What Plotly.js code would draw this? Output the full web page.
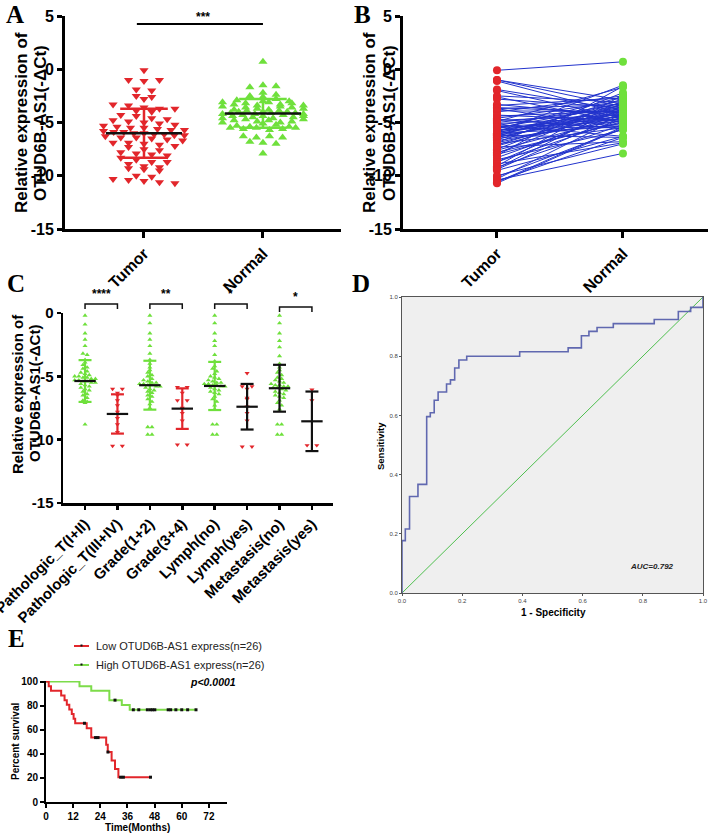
<!DOCTYPE html>
<html>
<head>
<meta charset="utf-8">
<script src="https://cdn.plot.ly/plotly-3.0.1.min.js"></script>
<style>body{margin:0;background:#fff}#fig{width:709px;height:834px}</style>
</head>
<body>
<div id="fig"></div>
<script>
// ---- panel A / B : tumor and matched normal -dCt (same order = pairs)
const groupsAB = ["Tumor", "Normal"];
const tumorVals = [-0.1, -1.0, -1.1, -1.0, -1.9, -2.0, -2.5, -2.6, -2.8, -3.3, -3.4, -3.6, -3.7, -3.7, -3.9, -4.0,
  -4.3, -4.4, -4.6, -4.7, -4.8, -4.9, -5.0, -5.1, -5.2, -5.3, -5.4, -5.5, -5.5, -5.6, -5.7, -5.7, -5.8, -5.9, -5.9,
  -6.0, -6.0, -6.1, -6.1, -6.2, -6.2, -6.3, -6.4, -6.4, -6.5, -6.6, -6.7, -6.9, -6.9, -7.0, -7.1, -7.2, -7.3, -7.5,
  -7.6, -7.8, -7.9, -8.0, -8.1, -8.3, -8.5, -8.7, -8.7, -8.9, -9.1, -9.2, -9.3, -9.4, -9.5, -10.0, -10.1, -10.3,
  -10.4, -10.5, -10.6, -10.7];
const normalVals = [0.7, -3.5, -4.2, -2.9, -3.8, -4.6, -3.1, -5.0, -3.6, -4.4, -2.7, -4.1, -5.5, -3.3, -4.0, -2.5,
  -4.8, -3.9, -3.0, -5.6, -4.3, -1.7, -3.7, -4.5, -6.3, -3.2, -4.7, -3.4, -4.9, -2.6, -4.2, -5.3, -3.8, -1.5, -4.4,
  -3.1, -5.4, -4.0, -3.5, -4.6, -6.4, -2.8, -4.1, -3.9, -5.1, -3.3, -4.8, -2.2, -4.3, -5.5, -3.6, -4.0, -6.8, -3.0,
  -4.5, -5.0, -3.2, -4.9, -1.6, -4.1, -5.7, -3.7, -4.7, -6.9, -2.4, -5.2, -3.4, -4.2, -6.3, -7.0, -5.6, -4.4, -7.9,
  -6.4, -5.4, -5.5];
const meanAB = [-6.0, -4.15];
const sdAB = [2.3, 1.35];
const yTicksAB = [-15, -10, -5, 0, 5];

// ---- panel C : subgroups
const groupsC = ["Pathologic_T(I+II)", "Pathologic_T(III+IV)", "Grade(1+2)", "Grade(3+4)",
  "Lymph(no)", "Lymph(yes)", "Metastasis(no)", "Metastasis(yes)"];
const tEarly = [-0.2, -0.9, -1.6, -2.1, -2.6, -3.2, -3.3, -3.7, -3.9, -4.1, -4.3, -4.4, -4.6, -4.7, -4.8, -4.9,
  -5.0, -5.0, -5.1, -5.1, -5.2, -5.2, -5.3, -5.3, -5.4, -5.4, -5.5, -5.5, -5.6, -5.7, -5.8, -5.9, -6.0, -6.1, -6.2,
  -6.4, -6.5, -6.7, -6.9, -7.0, -7.1, -8.8];
const tLate = [-6.0, -6.0, -6.3, -6.5, -6.9, -7.3, -7.8, -8.3, -8.8, -9.4, -10.5, -10.5];
const gradeLow = [-0.2, -0.8, -1.6, -2.1, -2.6, -3.2, -3.7, -4.0, -4.3, -4.5, -4.7, -4.9, -5.0, -5.2, -5.3, -5.4,
  -5.5, -5.5, -5.6, -5.6, -5.7, -5.7, -5.8, -5.8, -5.9, -6.0, -6.1, -6.2, -6.3, -6.5, -6.6, -6.8, -7.0, -7.2, -7.5,
  -9.0, -9.0, -9.6, -9.6];
const gradeHigh = [-5.85, -5.85, -6.3, -6.9, -6.9, -7.5, -7.9, -8.5, -10.4, -10.4];
const lymphNo = [-0.2, -0.8, -1.6, -2.2, -2.6, -3.3, -3.8, -4.2, -4.4, -4.6, -4.8, -5.0, -5.1, -5.2, -5.3, -5.4,
  -5.5, -5.5, -5.6, -5.6, -5.7, -5.7, -5.8, -5.8, -5.9, -6.0, -6.1, -6.2, -6.3, -6.4, -6.6, -6.8, -7.0, -7.3, -7.6,
  -8.8, -8.8, -9.6, -9.6];
const lymphYes = [-4.75, -5.8, -5.8, -6.0, -6.7, -6.8, -7.4, -7.9, -8.5, -10.55, -10.55];
const metaNo = [-0.2, -0.8, -1.6, -2.2, -2.7, -3.4, -4.0, -4.3, -4.5, -4.7, -4.9, -5.1, -5.2, -5.3, -5.4, -5.5,
  -5.6, -5.7, -5.7, -5.8, -5.8, -5.9, -5.9, -6.0, -6.1, -6.2, -6.3, -6.4, -6.5, -6.6, -6.7, -6.9, -7.1, -7.3, -7.6,
  -8.8, -8.8, -9.6, -9.6];
const metaYes = [-6.05, -6.9, -10.45, -10.45];
const meanC = [-5.37, -7.97, -5.7, -7.55, -5.76, -7.4, -5.94, -8.55];
const sdC = [1.65, 1.55, 1.93, 1.6, 1.9, 1.8, 1.85, 2.35];
const sigC = ["****", "**", "*", "*"];
const yTicksC = [-15, -10, -5, 0];

// ---- panel D : ROC corners
const rocFpr = [0, 0, 0.011, 0.025, 0.053, 0.082, 0.094, 0.107, 0.12, 0.148, 0.161, 0.175, 0.189, 0.215, 0.391,
  0.552, 0.596, 0.621, 0.648, 0.702, 0.838, 0.918, 0.959, 1.0];
const rocTpr = [0, 0.177, 0.216, 0.326, 0.367, 0.596, 0.609, 0.651, 0.679, 0.706, 0.72, 0.76, 0.787, 0.8, 0.815,
  0.828, 0.869, 0.884, 0.897, 0.91, 0.924, 0.951, 0.965, 1.0];
const rocTicks = [0, 0.2, 0.4, 0.6, 0.8, 1.0];

// ---- panel E : Kaplan-Meier
const lowTime = [0, 1.2, 2.2, 6.7, 8.2, 9.2, 10.3, 11.4, 12.2, 12.9, 18, 20, 26.6, 27.3, 29, 30.5, 32, 46.2];
const lowSurv = [100, 96.2, 92.3, 88.5, 84.6, 80.8, 76.9, 73.1, 69.2, 65.4, 61.3, 53.5, 47.5, 41.5, 34.5, 27.5, 20.6, 20.6];
const lowCens = [17, 21.9, 23, 27.4, 33, 34.2, 46.2];
const highTime = [0, 14.8, 20, 28, 33.5, 37, 66.3];
const highSurv = [100, 96.2, 92.3, 84.6, 80.6, 76.6, 76.6];
const highCens = [30.5, 38.6, 41, 44.8, 46.1, 47.1, 48.1, 54, 55.1, 57.4, 60, 62.6, 66.3];
const kmLabels = ["Low OTUD6B-AS1 express(n=26)", "High OTUD6B-AS1 express(n=26)"];

const W = 709, H = 834;
const px = x => x / W;
const py = y => 1 - y / H;
const RED = "#e2262b", GREEN = "#6fe03c", BLUE = "#2233cc";
const FONT = "Liberation Sans, Arial, sans-serif";
const SERIF = "Liberation Serif, Times New Roman, serif";

// spread points of one column into rows (GraphPad-like scatter)
function swarm(vals, binW, maxStep, halfW) {
  const rows = {};
  vals.forEach((v, i) => { const k = Math.round(v / binW); (rows[k] = rows[k] || []).push(i); });
  const off = vals.map(() => 0);
  Object.values(rows).forEach(ids => {
    const n = ids.length;
    const step = n > 1 ? Math.min(maxStep, 2 * halfW / (n - 1)) : 0;
    ids.forEach((id, j) => { off[id] = (j - (n - 1) / 2) * step; });
  });
  return off;
}

function barTraces(xc, m, s, col, xa, ya, capW, meanW, lw) {
  return [
    {x: [xc, xc, null, xc - capW, xc + capW, null, xc - capW, xc + capW],
     y: [m - s, m + s, null, m + s, m + s, null, m - s, m - s],
     mode: "lines", line: {color: col, width: lw}, xaxis: xa, yaxis: ya},
    {x: [xc - meanW, xc + meanW], y: [m, m], mode: "lines", line: {color: "#111", width: lw}, xaxis: xa, yaxis: ya}
  ];
}

function levelAt(ts, ss, t) {
  let s = ss[0];
  ts.forEach((v, i) => { if (v <= t) s = ss[i]; });
  return s;
}

const traces = [];

// A
const offT = swarm(tumorVals, 0.5, 0.13, 0.34);
const offN = swarm(normalVals, 0.4, 0.11, 0.34);
traces.push({x: offT, y: tumorVals, mode: "markers", xaxis: "x", yaxis: "y",
  marker: {symbol: "triangle-down", size: 8, color: RED}});
traces.push({x: offN.map(o => 1 + o), y: normalVals, mode: "markers", xaxis: "x", yaxis: "y",
  marker: {symbol: "triangle-up", size: 8, color: GREEN}});
[RED, GREEN].forEach((c, g) => traces.push(...barTraces(g, meanAB[g], sdAB[g], c, "x", "y", 0.2, 0.32, 2.5)));

// B
const pairX = [], pairY = [];
tumorVals.forEach((t, i) => { pairX.push(0, 1, null); pairY.push(t, normalVals[i], null); });
traces.push({x: pairX, y: pairY, mode: "lines", line: {color: BLUE, width: 1}, xaxis: "x2", yaxis: "y2"});
traces.push({x: tumorVals.map(() => 0), y: tumorVals, mode: "markers", xaxis: "x2", yaxis: "y2",
  marker: {size: 8, color: RED}});
traces.push({x: normalVals.map(() => 1), y: normalVals, mode: "markers", xaxis: "x2", yaxis: "y2",
  marker: {size: 8, color: GREEN}});

// C
const valsC = [tEarly, tLate, gradeLow, gradeHigh, lymphNo, lymphYes, metaNo, metaYes];
const barColC = [GREEN, RED, GREEN, RED, GREEN, "#111", "#111", "#111"];
valsC.forEach((vals, g) => {
  const green = g % 2 === 0;
  const off = green ? swarm(vals, 0.3, 0.13, 0.32) : swarm(vals, 0.3, 0.3, 0.16);
  traces.push({x: off.map(o => g + o), y: vals, mode: "markers", xaxis: "x3", yaxis: "y3",
    marker: {symbol: green ? "triangle-up" : "triangle-down", size: 4.5, color: green ? GREEN : RED}});
});
valsC.forEach((vals, g) => traces.push(...barTraces(g, meanC[g], sdC[g], barColC[g], "x3", "y3", 0.2, 0.33, 2.2)));

// D
traces.push({x: [0, 1], y: [0, 1], mode: "lines", line: {color: "#4fbf4f", width: 1}, xaxis: "x4", yaxis: "y4"});
traces.push({x: rocFpr, y: rocTpr, mode: "lines", line: {color: "#6068b0", width: 1.6, shape: "hv"},
  xaxis: "x4", yaxis: "y4"});

// E
traces.push({x: highTime, y: highSurv, mode: "lines", line: {color: "#7ddc4a", width: 2, shape: "hv"},
  xaxis: "x5", yaxis: "y5"});
traces.push({x: lowTime, y: lowSurv, mode: "lines", line: {color: RED, width: 2, shape: "hv"},
  xaxis: "x5", yaxis: "y5"});
traces.push({x: highCens, y: highCens.map(t => levelAt(highTime, highSurv, t)), mode: "markers",
  marker: {symbol: "square", size: 3, color: "#111"}, xaxis: "x5", yaxis: "y5"});
traces.push({x: lowCens, y: lowCens.map(t => levelAt(lowTime, lowSurv, t)), mode: "markers",
  marker: {symbol: "square", size: 3, color: "#111"}, xaxis: "x5", yaxis: "y5"});

const axBlack = (lw, tl) => ({showline: true, linecolor: "#000", linewidth: lw, ticks: "outside", ticklen: tl,
  tickwidth: lw, tickcolor: "#000", showgrid: false, zeroline: false, fixedrange: true, ticklabeloverflow: "allow"});
const bold = size => ({family: FONT, size: size, weight: "bold", color: "#000"});

const layout = {
  width: W, height: H, margin: {l: 0, r: 0, t: 0, b: 0},
  paper_bgcolor: "#fff", plot_bgcolor: "rgba(0,0,0,0)", showlegend: false,
  xaxis: Object.assign(axBlack(3, 6), {domain: [px(65), px(341)], anchor: "y", range: [-0.664, 1.656],
    tickvals: [0, 1], ticktext: groupsAB, tickangle: -45, tickfont: bold(16)}),
  yaxis: Object.assign(axBlack(3, 5), {domain: [py(229), py(16)], anchor: "x", range: [-15, 5],
    tickvals: yTicksAB, ticktext: yTicksAB.map(String), tickfont: bold(16)}),
  xaxis2: Object.assign(axBlack(3, 6), {domain: [px(403), px(708)], anchor: "y2", range: [-0.746, 1.675],
    tickvals: [0, 1], ticktext: groupsAB, tickangle: -45, tickfont: bold(16)}),
  yaxis2: Object.assign(axBlack(3, 5), {domain: [py(229), py(16)], anchor: "x2", range: [-15, 5],
    tickvals: yTicksAB, ticktext: yTicksAB.map(String), tickfont: bold(16)}),
  xaxis3: Object.assign(axBlack(2.5, 4), {domain: [px(63), px(333)], anchor: "y3", range: [-0.68, 7.65],
    tickvals: groupsC.map((g, i) => i), ticktext: groupsC, tickangle: -45, tickfont: bold(15)}),
  yaxis3: Object.assign(axBlack(2.5, 4), {domain: [py(503), py(313)], anchor: "x3", range: [-15, 0],
    tickvals: yTicksC, ticktext: yTicksC.map(String), tickfont: bold(15)}),
  xaxis4: {domain: [px(402), px(703)], anchor: "y4", range: [0, 1], showline: true, mirror: true,
    linecolor: "#555", linewidth: 1, ticks: "outside", ticklen: 2, tickcolor: "#555", showgrid: false,
    zeroline: false, tickvals: rocTicks, ticktext: rocTicks.map(v => v.toFixed(1)),
    tickfont: {family: FONT, size: 6, color: "#444"}},
  yaxis4: {domain: [py(593), py(297)], anchor: "x4", range: [0, 1], showline: true, mirror: true,
    linecolor: "#555", linewidth: 1, ticks: "outside", ticklen: 2, tickcolor: "#555", showgrid: false,
    zeroline: false, tickvals: rocTicks, ticktext: rocTicks.map(v => v.toFixed(1)),
    tickfont: {family: FONT, size: 6, color: "#444"}},
  xaxis5: Object.assign(axBlack(2, 4), {domain: [px(46), px(227)], anchor: "y5", range: [0, 80],
    tickvals: [0, 12, 24, 36, 48, 60, 72], tickfont: bold(10)}),
  yaxis5: Object.assign(axBlack(2, 4), {domain: [py(802), py(681)], anchor: "x5", range: [0, 100.5],
    tickvals: [0, 20, 40, 60, 80, 100], tickfont: bold(10)}),
  shapes: [
    {type: "rect", xref: "x4 domain", yref: "y4 domain", x0: 0, x1: 1, y0: 0, y1: 1,
     fillcolor: "#efefef", line: {width: 0}, layer: "below"},
    {type: "line", xref: "x", yref: "paper", x0: -0.06, x1: 1, y0: py(24), y1: py(24), line: {color: "#000", width: 2}}
  ],
  annotations: []
};

// significance brackets in C
sigC.forEach((s, k) => {
  const a = 2 * k, b = 2 * k + 1;
  const top = k < 3 ? 304 : 307;
  const drop = 5;
  layout.shapes.push({type: "path", xref: "x3", yref: "paper",
    path: `M ${a},${py(top + drop)} L ${a},${py(top)} L ${b},${py(top)} L ${b},${py(top + drop)}`,
    line: {color: "#111", width: 1.5}});
  layout.annotations.push({xref: "x3", yref: "paper", x: (a + b) / 2, y: py(top - 1), yanchor: "bottom",
    xanchor: "center", text: s, showarrow: false, font: bold(12)});
});

// KM legend (drawn by hand, short symbol)
[[RED, 646], ["#7ddc4a", 665]].forEach(([c, y], i) => {
  layout.shapes.push({type: "line", xref: "paper", yref: "paper", x0: px(74), x1: px(89), y0: py(y), y1: py(y),
    line: {color: c, width: 2}});
  layout.shapes.push({type: "rect", xref: "paper", yref: "paper", x0: px(80.5), x1: px(82.5), y0: py(y - 1.5),
    y1: py(y + 0.5), fillcolor: "#111", line: {width: 0}});
  layout.annotations.push({xref: "paper", yref: "paper", x: px(94), y: py(y), xanchor: "left", yanchor: "middle",
    text: kmLabels[i], showarrow: false, font: {family: FONT, size: 11, color: "#222"}});
});

const note = (text, x, y, font, extra) => layout.annotations.push(Object.assign({xref: "paper", yref: "paper",
  x: px(x), y: py(y), xanchor: "center", yanchor: "middle", text: text, showarrow: false, font: font}, extra || {}));

// panel letters
[["A", 15, 14], ["B", 362, 14], ["C", 16, 283], ["D", 361, 283], ["E", 16, 638]].forEach(([t, x, y]) =>
  note(t, x, y, {family: SERIF, size: 25, weight: "bold", color: "#000"}));

// axis titles
note("Relative expression of", 22, 123, bold(17), {textangle: -90});
note("OTUD6B-AS1(-ΔCt)", 41, 123, bold(17), {textangle: -90});
note("Relative expression of", 370, 123, bold(17), {textangle: -90});
note("OTUD6B-AS1(-ΔCt)", 390, 123, bold(17), {textangle: -90});
note("Relative expression of", 18, 394, bold(15), {textangle: -90});
note("OTUD6B-AS1(-ΔCt)", 35, 394, bold(15), {textangle: -90});
note("***", 203, 17, bold(12));
note("Sensitivity", 380, 446, bold(9.5), {textangle: -90});
note("1 - Specificity", 553, 612, bold(10));
note("AUC=0.792", 652, 566, {family: FONT, size: 8, weight: "bold", style: "italic", color: "#222"});
note("Percent survival", 15, 742, bold(10), {textangle: -90});
note("Time(Months)", 137, 827, bold(10));
note("p<0.0001", 238, 682, {family: FONT, size: 10.5, weight: "bold", style: "italic", color: "#000"},
  {xanchor: "right"});

Plotly.newPlot("fig", traces, layout, {displayModeBar: false, staticPlot: true});
</script>
</body>
</html>
